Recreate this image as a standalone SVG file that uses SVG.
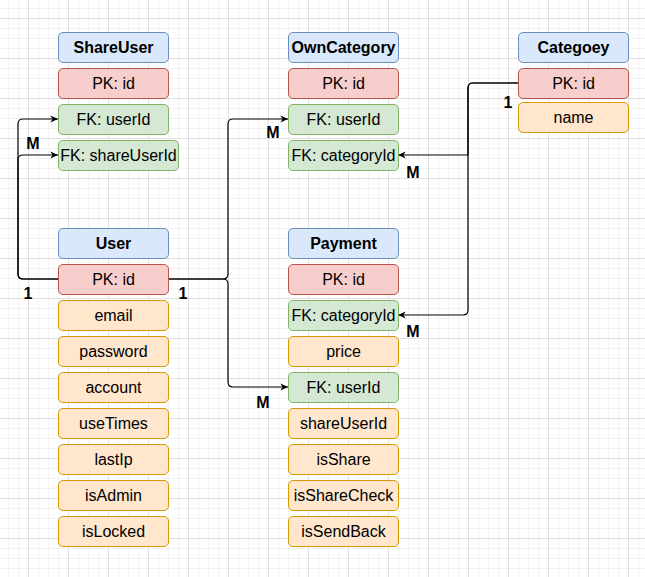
<svg xmlns="http://www.w3.org/2000/svg" width="645" height="577" viewBox="0 0 645 577">
<defs>
<pattern id="grid" x="8" y="8" width="40" height="40" patternUnits="userSpaceOnUse">
<path d="M0.5,0 V40 M10.5,0 V40 M30.5,0 V40 M0,0.5 H40 M0,20.5 H40 M0,30.5 H40" stroke="#f3f3f3" stroke-width="1" fill="none"/>
<path d="M20.5,0 V40 M0,10.5 H40" stroke="#e0e0e0" stroke-width="1" fill="none"/>
</pattern>
<marker id="arr" viewBox="0 0 10 10" refX="9.5" refY="5" markerWidth="9" markerHeight="9" markerUnits="userSpaceOnUse" orient="auto">
<path d="M1,1 L9.5,5 L1,9 L3.5,5 z" fill="#000"/>
</marker>
</defs>
<style>
rect{stroke-width:1}
.h{fill:#dae8fc;stroke:#6c8ebf}
.pk{fill:#f8cecc;stroke:#b85450}
.fk{fill:#d5e8d4;stroke:#82b366}
.at{fill:#ffe6cc;stroke:#d79b00}
text{font-family:"Liberation Sans",Arial,sans-serif;font-size:16px;fill:#000;text-anchor:middle}
.b{font-weight:bold}
.e{fill:none;stroke:#000;stroke-width:1.2}
</style>
<rect width="645" height="577" fill="#fff"/>
<rect width="645" height="577" fill="url(#grid)"/>

<g id="connectors">
<path class="e" d="M58,279 L23,279 Q18,279 18,274 L18,124 Q18,119 23,119 L58,119" marker-end="url(#arr)"/>
<path class="e" d="M58,279 L23,279 Q18,279 18,274 L18,160 Q18,155 23,155 L58,155" marker-end="url(#arr)"/>
<path class="e" d="M168,279 L223,279 Q228,279 228,274 L228,124 Q228,119 233,119 L288,119" marker-end="url(#arr)"/>
<path class="e" d="M168,279 L223,279 Q228,279 228,284 L228,382 Q228,387 233,387 L288,387" marker-end="url(#arr)"/>
<path class="e" d="M518,83 L473,83 Q468,83 468,88 L468,155 L398,155" marker-end="url(#arr)"/>
<path class="e" d="M518,83 L473,83 Q468,83 468,88 L468,310 Q468,315 463,315 L398,315" marker-end="url(#arr)"/>
<text class="b" x="33" y="148.5">M</text>
<text class="b" x="28" y="298.5">1</text>
<text class="b" x="183" y="298.5">1</text>
<text class="b" x="273" y="137.5">M</text>
<text class="b" x="263" y="407.5">M</text>
<text class="b" x="508" y="107.5">1</text>
<text class="b" x="413" y="177.5">M</text>
<text class="b" x="413" y="337">M</text>
</g>

<g id="ShareUser">
<rect class="h" x="58.5" y="32.5" width="110" height="30" rx="4.5"/><text class="b" x="113.5" y="53">ShareUser</text>
<rect class="pk" x="58.5" y="68.5" width="110" height="30" rx="4.5"/><text x="113.5" y="89">PK: id</text>
<rect class="fk" x="58.5" y="104.5" width="110" height="30" rx="4.5"/><text x="113.5" y="125">FK: userId</text>
<rect class="fk" x="58.5" y="140.5" width="120" height="30" rx="4.5"/><text x="118.5" y="161">FK: shareUserId</text>
</g>

<g id="OwnCategory">
<rect class="h" x="288.5" y="32.5" width="110" height="30" rx="4.5"/><text class="b" x="343.5" y="53">OwnCategory</text>
<rect class="pk" x="288.5" y="68.5" width="110" height="30" rx="4.5"/><text x="343.5" y="89">PK: id</text>
<rect class="fk" x="288.5" y="104.5" width="110" height="30" rx="4.5"/><text x="343.5" y="125">FK: userId</text>
<rect class="fk" x="288.5" y="140.5" width="110" height="30" rx="4.5"/><text x="343.5" y="161">FK: categoryId</text>
</g>

<g id="Categoey">
<rect class="h" x="518.5" y="32.5" width="110" height="30" rx="4.5"/><text class="b" x="573.5" y="53">Categoey</text>
<rect class="pk" x="518.5" y="68.5" width="110" height="30" rx="4.5"/><text x="573.5" y="89">PK: id</text>
<rect class="at" x="518.5" y="102.5" width="110" height="30" rx="4.5"/><text x="573.5" y="123">name</text>
</g>

<g id="User">
<rect class="h" x="58.5" y="228.5" width="110" height="30" rx="4.5"/><text class="b" x="113.5" y="249">User</text>
<rect class="pk" x="58.5" y="264.5" width="110" height="30" rx="4.5"/><text x="113.5" y="285">PK: id</text>
<rect class="at" x="58.5" y="300.5" width="110" height="30" rx="4.5"/><text x="113.5" y="321">email</text>
<rect class="at" x="58.5" y="336.5" width="110" height="30" rx="4.5"/><text x="113.5" y="357">password</text>
<rect class="at" x="58.5" y="372.5" width="110" height="30" rx="4.5"/><text x="113.5" y="393">account</text>
<rect class="at" x="58.5" y="408.5" width="110" height="30" rx="4.5"/><text x="113.5" y="429">useTimes</text>
<rect class="at" x="58.5" y="444.5" width="110" height="30" rx="4.5"/><text x="113.5" y="465">lastIp</text>
<rect class="at" x="58.5" y="480.5" width="110" height="30" rx="4.5"/><text x="113.5" y="501">isAdmin</text>
<rect class="at" x="58.5" y="516.5" width="110" height="30" rx="4.5"/><text x="113.5" y="537">isLocked</text>
</g>

<g id="Payment">
<rect class="h" x="288.5" y="228.5" width="110" height="30" rx="4.5"/><text class="b" x="343.5" y="249">Payment</text>
<rect class="pk" x="288.5" y="264.5" width="110" height="30" rx="4.5"/><text x="343.5" y="285">PK: id</text>
<rect class="fk" x="288.5" y="300.5" width="110" height="30" rx="4.5"/><text x="343.5" y="321">FK: categoryId</text>
<rect class="at" x="288.5" y="336.5" width="110" height="30" rx="4.5"/><text x="343.5" y="357">price</text>
<rect class="fk" x="288.5" y="372.5" width="110" height="30" rx="4.5"/><text x="343.5" y="393">FK: userId</text>
<rect class="at" x="288.5" y="408.5" width="110" height="30" rx="4.5"/><text x="343.5" y="429">shareUserId</text>
<rect class="at" x="288.5" y="444.5" width="110" height="30" rx="4.5"/><text x="343.5" y="465">isShare</text>
<rect class="at" x="288.5" y="480.5" width="110" height="30" rx="4.5"/><text x="343.5" y="501">isShareCheck</text>
<rect class="at" x="288.5" y="516.5" width="110" height="30" rx="4.5"/><text x="343.5" y="537">isSendBack</text>
</g>
</svg>
